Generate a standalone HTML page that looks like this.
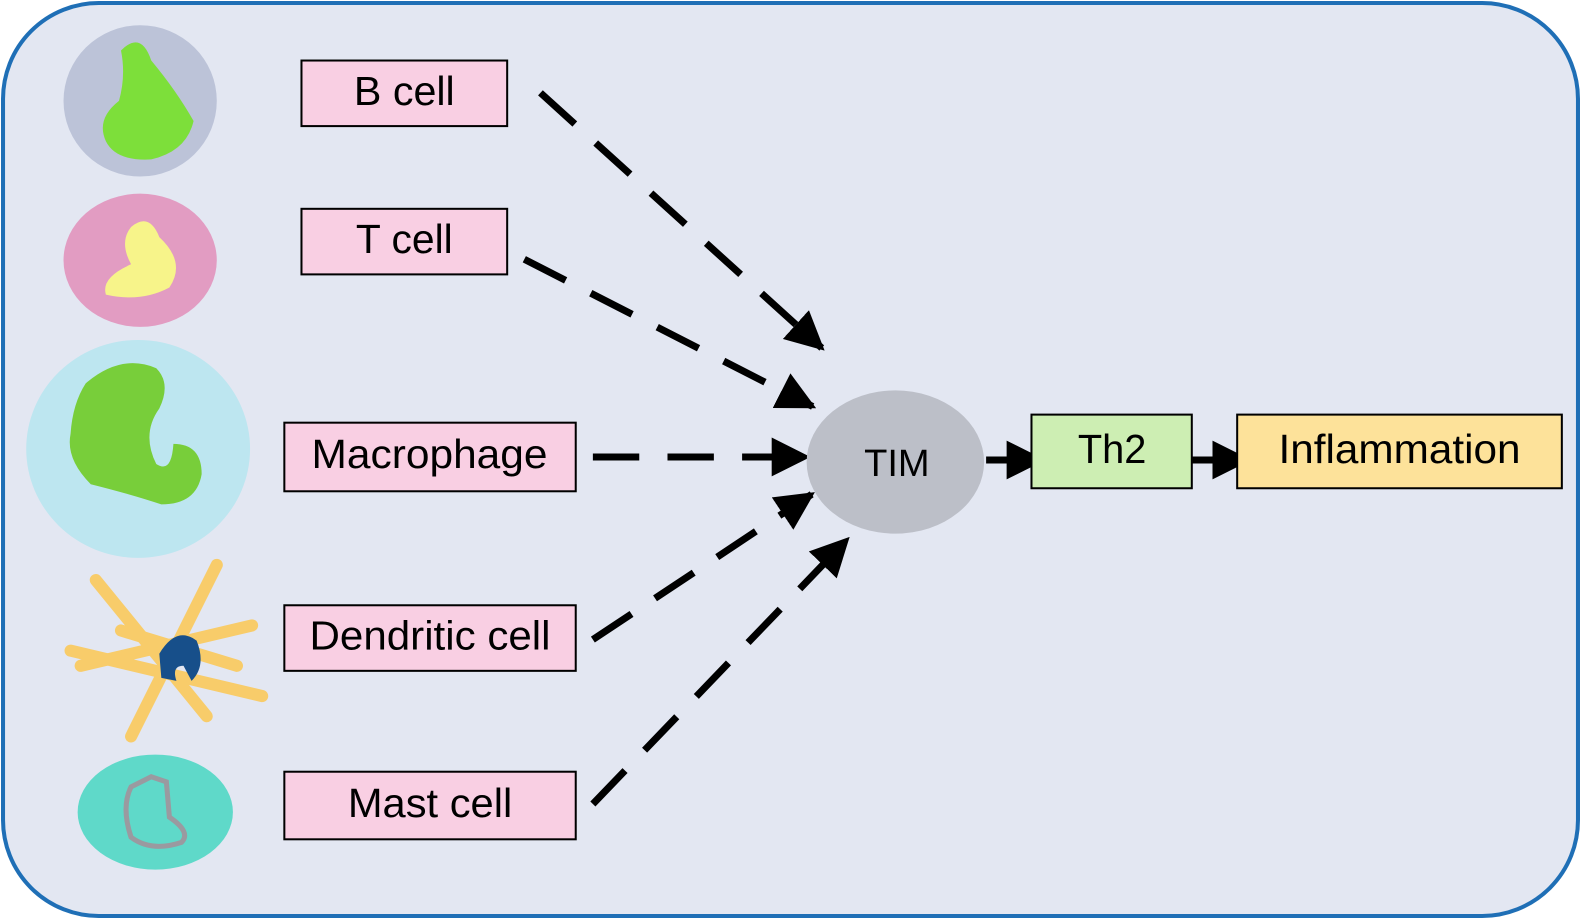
<!DOCTYPE html>
<html><head><meta charset="utf-8"><style>
html,body{margin:0;padding:0;background:#fff;}
svg{display:block;}
text{font-family:"Liberation Sans",sans-serif;}
</style></head><body>
<svg width="1581" height="919" viewBox="0 0 1568 911" preserveAspectRatio="none" xmlns="http://www.w3.org/2000/svg">
<defs>
<marker id="ah" viewBox="0 0 10 10" refX="9" refY="5" markerWidth="5.5" markerHeight="5.5" orient="auto" markerUnits="strokeWidth">
<path d="M0,0 L10,5 L0,10 z" fill="#000"/></marker>
</defs>
<rect x="3" y="3" width="1562" height="905" rx="95" fill="#e3e7f2" stroke="#1f6fb6" stroke-width="4"/>
<!-- cells -->
<ellipse cx="139" cy="100" rx="76" ry="75" fill="#bcc3d8"/>
<path d="M120 50 Q140 30 150 60 Q175 90 192 120 Q185 150 150 158 Q115 160 105 140 Q95 118 118 100 Q125 75 120 50z" fill="#7ddf3a"/>
<ellipse cx="139" cy="258" rx="76" ry="66" fill="#e29cc2"/>
<path d="M130 225 Q148 210 158 235 Q185 260 168 285 Q140 300 105 292 Q100 275 130 262 Q118 240 130 225z" fill="#f7f48a"/>
<ellipse cx="137" cy="445" rx="111" ry="108" fill="#bde6f0"/>
<path d="M85 380 Q120 350 155 365 Q170 380 158 405 Q140 430 155 460 Q170 470 172 440 Q200 440 200 470 Q195 500 160 500 Q130 490 90 480 Q65 455 70 430 Q72 400 85 380z" fill="#78ce3a"/>
<g stroke="#f8cc6a" stroke-width="12" stroke-linecap="round">
<line x1="70" y1="645" x2="260" y2="690"/><line x1="95" y1="575" x2="205" y2="710"/>
<line x1="215" y1="560" x2="130" y2="730"/><line x1="80" y1="660" x2="250" y2="620"/>
<line x1="120" y1="625" x2="235" y2="660"/></g>
<path d="M158 648 Q175 620 195 635 Q205 660 190 675 L182 660 Q170 660 175 675 L160 672z" fill="#174f8a"/>
<ellipse cx="154" cy="805" rx="77" ry="57" fill="#5fd9c9"/>
<path d="M150 770 L165 775 L168 810 Q190 825 180 835 Q150 845 130 830 Q120 800 130 780z" fill="none" stroke="#9a9aa0" stroke-width="5"/>
<!-- labels -->
<g fill="#f9cfe3" stroke="#000" stroke-width="2">
<rect x="299" y="60" width="204" height="65"/>
<rect x="299" y="207" width="204" height="65"/>
<rect x="282" y="419" width="289" height="68"/>
<rect x="282" y="600" width="289" height="65"/>
<rect x="282" y="765" width="289" height="67"/>
</g>
<g font-size="40" fill="#000" lengthAdjust="spacingAndGlyphs">
<text x="351" y="104" textLength="100" lengthAdjust="spacingAndGlyphs">B cell</text>
<text x="353" y="251" textLength="96" lengthAdjust="spacingAndGlyphs">T cell</text>
<text x="309" y="464" textLength="234" lengthAdjust="spacingAndGlyphs">Macrophage</text>
<text x="307" y="644" textLength="239" lengthAdjust="spacingAndGlyphs">Dendritic cell</text>
<text x="345" y="810" textLength="163" lengthAdjust="spacingAndGlyphs">Mast cell</text>
</g>
<!-- arrows -->
<g stroke="#000" stroke-width="7" stroke-dasharray="46,28" fill="none" marker-end="url(#ah)">
<line x1="536" y1="92" x2="815" y2="345"/>
<line x1="520" y1="257" x2="806" y2="403"/>
<line x1="588" y1="453" x2="800" y2="453"/>
<line x1="588" y1="634" x2="805" y2="490"/>
<line x1="588" y1="797" x2="840" y2="535"/>
</g>
<ellipse cx="888" cy="458" rx="88" ry="71" fill="#bcbfc8"/>
<text x="857" y="472" font-size="38" textLength="65" lengthAdjust="spacingAndGlyphs">TIM</text>
<g stroke="#000" stroke-width="7" marker-end="url(#ah)">
<line x1="978" y1="456" x2="1033" y2="456"/>
<line x1="1182" y1="456" x2="1237" y2="456"/>
</g>
<rect x="1023" y="411" width="159" height="73" fill="#cdeeb3" stroke="#000" stroke-width="2"/>
<text x="1069" y="459" font-size="40" textLength="68" lengthAdjust="spacingAndGlyphs">Th2</text>
<rect x="1227" y="411" width="322" height="73" fill="#fde29a" stroke="#000" stroke-width="2"/>
<text x="1268" y="459" font-size="40" textLength="240" lengthAdjust="spacingAndGlyphs">Inflammation</text>
</svg>
</body></html>
